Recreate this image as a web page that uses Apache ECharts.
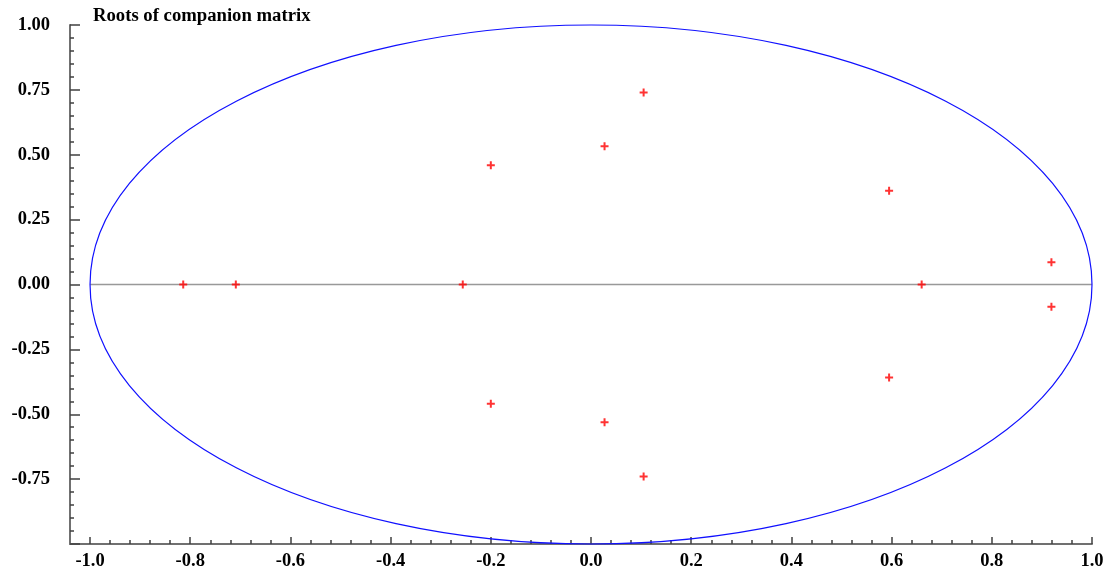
<!DOCTYPE html>
<html>
<head>
<meta charset="utf-8">
<script src="https://cdn.jsdelivr.net/npm/echarts@6/dist/echarts.min.js"></script>
<style>
html,body{margin:0;padding:0;background:#fff;}
#main{width:1107px;height:571px;}
</style>
</head>
<body>
<div id="main"></div>
<script>
var rootRe = [-0.814, -0.709, -0.256, 0.660, 0.919, 0.919, 0.595, 0.595, 0.105, 0.105, 0.027, 0.027, -0.200, -0.200];
var rootIm = [0.000, 0.000, 0.000, 0.000, 0.086, -0.086, 0.361, -0.358, 0.740, -0.740, 0.533, -0.531, 0.460, -0.460];
// Unit circle: centre x, centre y, radius
var unitCircle = [[0, 0, 1]];
// Zero (real) axis line
var zeroLine = [[-1, 0], [1, 0]];
// Tick labels
var xTickValues = [-1.0, -0.8, -0.6, -0.4, -0.2, 0.0, 0.2, 0.4, 0.6, 0.8, 1.0];
var yTickValues = [-1.00, -0.75, -0.50, -0.25, 0.00, 0.25, 0.50, 0.75, 1.00];
var titleText = 'Roots of companion matrix';

var xMinor = [];
for (var i = 0; i < xTickValues.length - 1; i++) {
  for (var k = 1; k < 5; k++) {
    xMinor.push(xTickValues[i] + (xTickValues[i + 1] - xTickValues[i]) * k / 5);
  }
}

var points = rootRe.map(function (v, i) { return [v, rootIm[i]]; });

var fontFam = '"Liberation Serif", "Times New Roman", serif';
var chart = echarts.init(document.getElementById('main'), null, { renderer: 'canvas' });
chart.setOption({
  animation: false,
  backgroundColor: '#fff',
  title: {
    text: titleText,
    left: 93,
    top: 7,
    padding: 0,
    textStyle: { fontFamily: fontFam, fontWeight: 'bold', fontSize: 18.7, color: '#000' }
  },
  grid: { left: 70, right: 15, top: 25, bottom: 27, containLabel: false },
  xAxis: [{
    type: 'value', min: -1.04, max: 1.0,
    splitLine: { show: false },
    axisLine: { show: true, onZero: false, lineStyle: { color: '#707070', width: 2 } },
    axisTick: { show: true, inside: true, length: 7, customValues: xTickValues, lineStyle: { color: '#404040', width: 1.5 } },
    axisLabel: {
      show: true, customValues: xTickValues, margin: 8,
      fontFamily: fontFam, fontWeight: 'bold', fontSize: 18.5, color: '#000',
      formatter: function (v) { return (+v).toFixed(1); }
    }
  }, {
    type: 'value', min: -1.04, max: 1.0, position: 'bottom',
    splitLine: { show: false },
    axisLine: { show: false, onZero: false },
    axisTick: { show: true, inside: true, length: 4, customValues: xMinor, lineStyle: { color: '#404040', width: 1.5 } },
    axisLabel: { show: false }
  }],
  yAxis: {
    type: 'value', min: -1, max: 1, interval: 0.25,
    splitLine: { show: false },
    axisLine: { show: true, onZero: false, lineStyle: { color: '#707070', width: 2 } },
    axisTick: { show: true, inside: true, length: 10, lineStyle: { color: '#404040', width: 1.5 } },
    minorTick: { show: true, splitNumber: 5, length: 4, lineStyle: { color: '#404040', width: 1.5 } },
    axisLabel: {
      show: true, margin: 20,
      fontFamily: fontFam, fontWeight: 'bold', fontSize: 18.5, color: '#000',
      formatter: function (v) { return Math.abs(v + 1) < 1e-9 ? '' : (+v).toFixed(2); }
    }
  },
  series: [{
    type: 'line',
    data: zeroLine,
    symbol: 'none',
    lineStyle: { color: '#999999', width: 1.5 },
    silent: true,
    z: 1
  }, {
    type: 'custom',
    data: unitCircle,
    silent: true,
    z: 2,
    renderItem: function (params, api) {
      var c = api.coord([api.value(0), api.value(1)]);
      var r = api.size([api.value(2), api.value(2)]);
      return {
        type: 'ellipse',
        shape: { cx: c[0], cy: c[1], rx: r[0], ry: r[1] },
        style: { fill: null, stroke: '#1010ff', lineWidth: 1.2 }
      };
    }
  }, {
    type: 'scatter',
    data: points,
    symbol: 'path://M3,0h2v3h3v2h-3v3h-2v-3h-3v-2h3z',
    symbolSize: 8,
    itemStyle: { color: '#ff0000' },
    z: 3
  }]
});
</script>
</body>
</html>
